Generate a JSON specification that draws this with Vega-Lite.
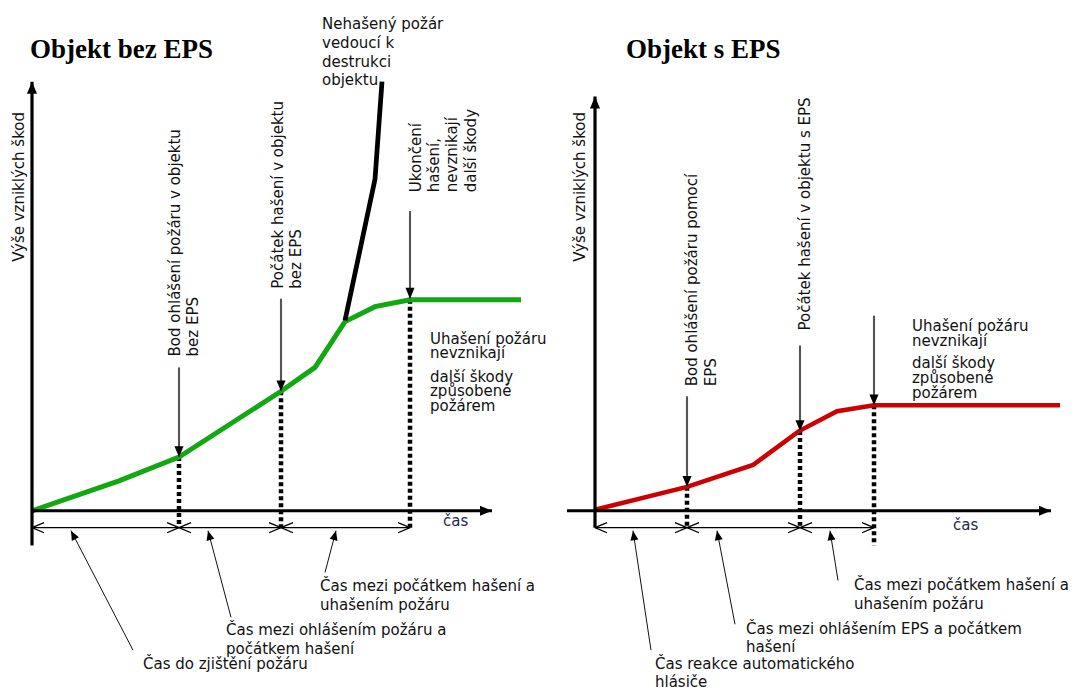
{
  "$schema": "https://vega.github.io/schema/vega-lite/v6.json",
  "width": 1075,
  "height": 690,
  "padding": 0,
  "autosize": {"type": "fit", "contains": "padding"},
  "background": "white",
  "config": {"view": {"stroke": null}},
  "datasets": {
    "curves": [
      {"s": "bez", "i": 0, "x": 32, "y": 513},
      {"s": "bez", "i": 1, "x": 119, "y": 483},
      {"s": "bez", "i": 2, "x": 179, "y": 459},
      {"s": "bez", "i": 3, "x": 281, "y": 393},
      {"s": "bez", "i": 4, "x": 315, "y": 369},
      {"s": "bez", "i": 5, "x": 345, "y": 323},
      {"s": "bez", "i": 6, "x": 375, "y": 308},
      {"s": "bez", "i": 7, "x": 410, "y": 301},
      {"s": "bez", "i": 8, "x": 521, "y": 301},
      {"s": "destr", "i": 0, "x": 345, "y": 322},
      {"s": "destr", "i": 1, "x": 375, "y": 180},
      {"s": "destr", "i": 2, "x": 382, "y": 82},
      {"s": "eps", "i": 0, "x": 595, "y": 512},
      {"s": "eps", "i": 1, "x": 687, "y": 489},
      {"s": "eps", "i": 2, "x": 753, "y": 467},
      {"s": "eps", "i": 3, "x": 799, "y": 433},
      {"s": "eps", "i": 4, "x": 837, "y": 413},
      {"s": "eps", "i": 5, "x": 874, "y": 407},
      {"s": "eps", "i": 6, "x": 1060, "y": 407}
    ],
    "arrows": [
      {"kind": "axis", "x": 32, "y": 548, "x2": 32, "y2": 82},
      {"kind": "axis", "x": 32, "y": 513, "x2": 492, "y2": 513},
      {"kind": "axis", "x": 595, "y": 530, "x2": 595, "y2": 97},
      {"kind": "axis", "x": 567, "y": 513, "x2": 1051, "y2": 513},
      {"kind": "vptr", "x": 179, "y": 369, "x2": 179, "y2": 459},
      {"kind": "vptr", "x": 281, "y": 300, "x2": 281, "y2": 393},
      {"kind": "vptr", "x": 410, "y": 212, "x2": 410, "y2": 300},
      {"kind": "vptr", "x": 687, "y": 398, "x2": 687, "y2": 489},
      {"kind": "vptr", "x": 800, "y": 347, "x2": 800, "y2": 433},
      {"kind": "vptr", "x": 874, "y": 317, "x2": 874, "y2": 407},
      {"kind": "dptr", "x": 133, "y": 653, "x2": 71, "y2": 533},
      {"kind": "dptr", "x": 231, "y": 620, "x2": 208, "y2": 533},
      {"kind": "dptr", "x": 325, "y": 575, "x2": 336, "y2": 533},
      {"kind": "dptr", "x": 651, "y": 653, "x2": 633, "y2": 533},
      {"kind": "dptr", "x": 735, "y": 627, "x2": 717, "y2": 533},
      {"kind": "dptr", "x": 838, "y": 583, "x2": 830, "y2": 533}
    ],
    "dots": [
      {"x": 179, "y": 459, "y2": 527},
      {"x": 281, "y": 393, "y2": 530},
      {"x": 410, "y": 301, "y2": 530},
      {"x": 687, "y": 489, "y2": 528},
      {"x": 800, "y": 433, "y2": 528},
      {"x": 874, "y": 407, "y2": 548}
    ],
    "dims": [
      {"x": 32, "x2": 179, "y": 530},
      {"x": 179, "x2": 281, "y": 530},
      {"x": 281, "x2": 410, "y": 530},
      {"x": 595, "x2": 687, "y": 530},
      {"x": 687, "x2": 800, "y": 530},
      {"x": 800, "x2": 874, "y": 530}
    ],
    "labels": [
      {"x": 322, "y": 24, "text": "Nehašený požár"},
      {"x": 322, "y": 43, "text": "vedoucí k"},
      {"x": 322, "y": 62, "text": "destrukci"},
      {"x": 322, "y": 80, "text": "objektu"},
      {"x": 430, "y": 340, "text": "Uhašení požáru"},
      {"x": 430, "y": 355, "text": "nevznikají"},
      {"x": 430, "y": 379, "text": "další škody"},
      {"x": 430, "y": 393, "text": "způsobené"},
      {"x": 430, "y": 408, "text": "požárem"},
      {"x": 320, "y": 589, "text": "Čas mezi počátkem hašení a"},
      {"x": 320, "y": 608, "text": "uhašením požáru"},
      {"x": 226, "y": 633, "text": "Čas mezi ohlášením požáru a"},
      {"x": 226, "y": 652, "text": "počátkem hašení"},
      {"x": 143, "y": 667, "text": "Čas do zjištění požáru"},
      {"x": 912, "y": 327, "text": "Uhašení požáru"},
      {"x": 912, "y": 342, "text": "nevznikají"},
      {"x": 912, "y": 365, "text": "další škody"},
      {"x": 912, "y": 380, "text": "způsobené"},
      {"x": 912, "y": 395, "text": "požárem"},
      {"x": 854, "y": 588, "text": "Čas mezi počátkem hašení a"},
      {"x": 854, "y": 607, "text": "uhašením požáru"},
      {"x": 746, "y": 632, "text": "Čas mezi ohlášením EPS a počátkem"},
      {"x": 746, "y": 650, "text": "hašení"},
      {"x": 655, "y": 667, "text": "Čas reakce automatického"},
      {"x": 655, "y": 685, "text": "hlásiče"}
    ],
    "cas": [
      {"x": 443, "y": 523, "text": "čas"},
      {"x": 953, "y": 527, "text": "čas"}
    ],
    "vlabels": [
      {"x": 19, "y": 263, "text": "Výše vzniklých škod"},
      {"x": 175, "y": 358, "text": "Bod ohlášení požáru v objektu"},
      {"x": 193, "y": 358, "text": "bez EPS"},
      {"x": 278, "y": 290, "text": "Počátek hašení v objektu"},
      {"x": 296, "y": 290, "text": "bez  EPS"},
      {"x": 416, "y": 193, "text": "Ukončení"},
      {"x": 434, "y": 193, "text": "hašení,"},
      {"x": 452, "y": 193, "text": "nevznikají"},
      {"x": 471, "y": 193, "text": "další škody"},
      {"x": 580, "y": 263, "text": "Výše vzniklých škod"},
      {"x": 692, "y": 388, "text": "Bod ohlášení požáru pomocí"},
      {"x": 711, "y": 388, "text": "EPS"},
      {"x": 805, "y": 332, "text": "Počátek hašení v objektu s EPS"}
    ],
    "titles": [
      {"x": 30, "y": 58, "text": "Objekt bez EPS"},
      {"x": 626, "y": 58, "text": "Objekt s EPS"}
    ]
  },
  "encoding": {
    "x": {"field": "x", "type": "quantitative", "scale": {"domain": [0, 1075], "nice": false, "zero": false}, "axis": null},
    "y": {"field": "y", "type": "quantitative", "scale": {"domain": [0, 690], "nice": false, "zero": false, "reverse": true}, "axis": null}
  },
  "resolve": {"scale": {"color": "independent", "strokeWidth": "independent", "size": "independent"}},
  "layer": [
    {
      "data": {"name": "dots"},
      "mark": {"type": "rule", "color": "black", "strokeWidth": 4.5, "strokeDash": [4, 3]},
      "encoding": {"y2": {"field": "y2"}}
    },
    {
      "data": {"name": "curves"},
      "mark": {"type": "line", "strokeCap": "butt", "strokeJoin": "miter"},
      "encoding": {
        "color": {"field": "s", "type": "nominal", "scale": {"domain": ["bez", "destr", "eps"], "range": ["#12a812", "#000000", "#cc0000"]}, "legend": null},
        "strokeWidth": {"field": "s", "type": "nominal", "scale": {"domain": ["bez", "destr", "eps"], "range": [5, 4.5, 5]}, "legend": null},
        "order": {"field": "i", "type": "quantitative"}
      }
    },
    {
      "data": {"name": "dims"},
      "mark": {"type": "rule", "color": "black", "strokeWidth": 1.3},
      "encoding": {"x2": {"field": "x2"}}
    },
    {
      "data": {"name": "dims"},
      "mark": {"type": "point", "shape": "M0,0L1,-0.42M0,0L1,0.42", "size": 576, "filled": false, "stroke": "black", "strokeWidth": 1.3, "opacity": 1}
    },
    {
      "data": {"name": "dims"},
      "mark": {"type": "point", "shape": "M0,0L-1,-0.42M0,0L-1,0.42", "size": 576, "filled": false, "stroke": "black", "strokeWidth": 1.3, "opacity": 1},
      "encoding": {"x": {"field": "x2", "type": "quantitative", "scale": {"domain": [0, 1075], "nice": false, "zero": false}, "axis": null}}
    },
    {
      "data": {"name": "arrows"},
      "mark": {"type": "rule", "strokeCap": "butt"},
      "encoding": {
        "x2": {"field": "x2"},
        "y2": {"field": "y2"},
        "color": {"field": "kind", "type": "nominal", "scale": {"domain": ["axis", "vptr", "dptr"], "range": ["#000000", "#555555", "#111111"]}, "legend": null},
        "strokeWidth": {"field": "kind", "type": "nominal", "scale": {"domain": ["axis", "vptr", "dptr"], "range": [3.2, 1, 1.3]}, "legend": null}
      }
    },
    {
      "data": {"name": "arrows"},
      "transform": [{"calculate": "atan2(datum.x2 - datum.x, datum.y - datum.y2) * 180 / PI", "as": "ang"}],
      "mark": {"type": "point", "shape": "M0,0L-0.42,1L0.42,1Z", "filled": true, "color": "black", "opacity": 1, "strokeWidth": 0},
      "encoding": {
        "x": {"field": "x2", "type": "quantitative", "scale": {"domain": [0, 1075], "nice": false, "zero": false}, "axis": null},
        "y": {"field": "y2", "type": "quantitative", "scale": {"domain": [0, 690], "nice": false, "zero": false, "reverse": true}, "axis": null},
        "angle": {"field": "ang", "type": "quantitative", "scale": null},
        "size": {"field": "kind", "type": "nominal", "scale": {"domain": ["axis", "vptr", "dptr"], "range": [576, 361, 441]}, "legend": null}
      }
    },
    {
      "data": {"name": "labels"},
      "mark": {"type": "text", "align": "left", "baseline": "middle", "font": "DejaVu Sans", "fontSize": 15, "color": "#111111"},
      "encoding": {"text": {"field": "text"}}
    },
    {
      "data": {"name": "cas"},
      "mark": {"type": "text", "align": "left", "baseline": "middle", "font": "DejaVu Sans", "fontSize": 15, "color": "#1c2a4a"},
      "encoding": {"text": {"field": "text"}}
    },
    {
      "data": {"name": "vlabels"},
      "mark": {"type": "text", "align": "left", "baseline": "middle", "angle": 270, "font": "DejaVu Sans", "fontSize": 15, "color": "#111111"},
      "encoding": {"text": {"field": "text"}}
    },
    {
      "data": {"name": "titles"},
      "mark": {"type": "text", "align": "left", "baseline": "alphabetic", "font": "Liberation Serif", "fontWeight": "bold", "fontSize": 27, "color": "black"},
      "encoding": {"text": {"field": "text"}}
    }
  ]
}
